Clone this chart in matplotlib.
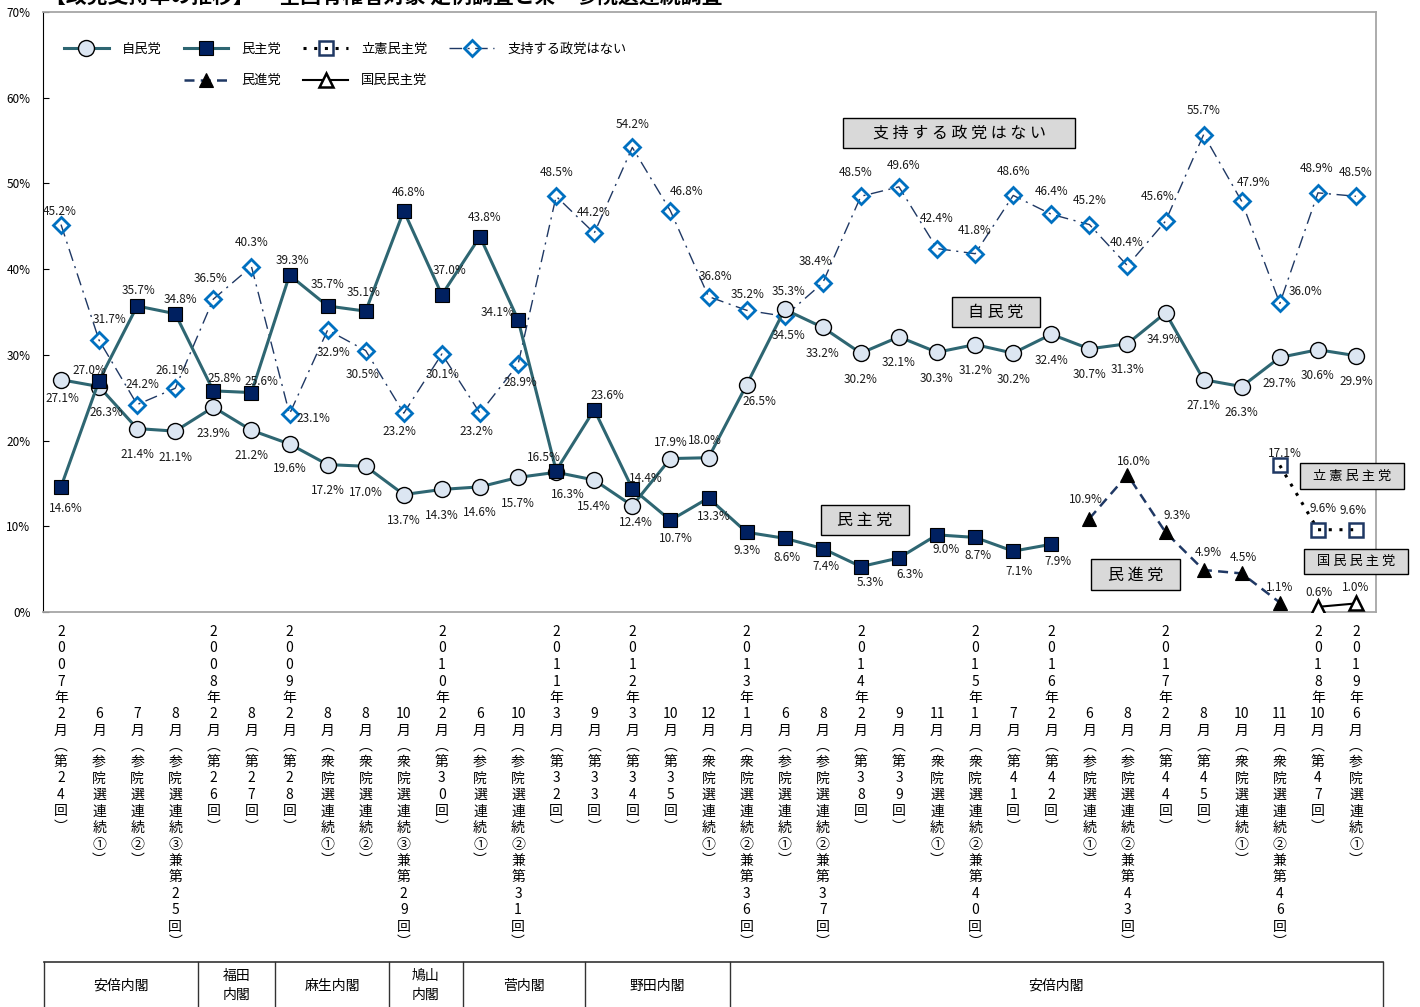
import matplotlib
matplotlib.use('Agg')
from matplotlib import pyplot as plt
from matplotlib.lines import Line2D
from matplotlib.patches import Rectangle

plt.rcParams['font.family'] = ['Noto Sans CJK JP', 'DejaVu Sans']

W, H = 1420, 1007

# survey labels (x axis)
years = ['2007', '', '', '', '2008', '', '2009', '', '', '', '2010', '', '', '2011', '', '2012', '', '',
         '2013', '', '', '2014', '', '', '2015', '', '2016', '', '', '2017', '', '', '', '2018', '2019']
months = ['2', '6', '7', '8', '2', '8', '2', '8', '8', '10', '2', '6', '10', '3', '9', '3', '10', '12',
          '1', '6', '8', '2', '9', '11', '1', '7', '2', '6', '8', '2', '8', '10', '11', '10', '6']
details = ['第24回', '参院選連続①', '参院選連続②', '参院選連続③兼第25回', '第26回', '第27回', '第28回',
           '衆院選連続①', '衆院選連続②', '衆院選連続③兼第29回', '第30回', '参院選連続①', '参院選連続②兼第31回',
           '第32回', '第33回', '第34回', '第35回', '衆院選連続①', '衆院選連続②兼第36回', '参院選連続①',
           '参院選連続②兼第37回', '第38回', '第39回', '衆院選連続①', '衆院選連続②兼第40回', '第41回', '第42回',
           '参院選連続①', '参院選連続②兼第43回', '第44回', '第45回', '衆院選連続①', '衆院選連続②兼第46回',
           '第47回', '参院選連続①']

# support rates (%)
ldp = [27.1, 26.3, 21.4, 21.1, 23.9, 21.2, 19.6, 17.2, 17.0, 13.7, 14.3, 14.6, 15.7, 16.3, 15.4, 12.4,
       17.9, 18.0, 26.5, 35.3, 33.2, 30.2, 32.1, 30.3, 31.2, 30.2, 32.4, 30.7, 31.3, 34.9, 27.1, 26.3,
       29.7, 30.6, 29.9]
dpj = [14.6, 27.0, 35.7, 34.8, 25.8, 25.6, 39.3, 35.7, 35.1, 46.8, 37.0, 43.8, 34.1, 16.5, 23.6, 14.4,
       10.7, 13.3, 9.3, 8.6, 7.4, 5.3, 6.3, 9.0, 8.7, 7.1, 7.9]
no_party = [45.2, 31.7, 24.2, 26.1, 36.5, 40.3, 23.1, 32.9, 30.5, 23.2, 30.1, 23.2, 28.9, 48.5, 44.2,
            54.2, 46.8, 36.8, 35.2, 34.5, 38.4, 48.5, 49.6, 42.4, 41.8, 48.6, 46.4, 45.2, 40.4, 45.6,
            55.7, 47.9, 36.0, 48.9, 48.5]
minshin = [10.9, 16.0, 9.3, 4.9, 4.5, 1.1]
rikken = [17.1, 9.6, 9.6]
kokumin = [0.6, 1.0]

x_all = list(range(1, 36))
x_dpj = x_all[:27]
x_minshin = x_all[27:33]
x_rikken = x_all[32:35]
x_kokumin = x_all[33:35]

cabinets = ['安倍内閣', '福田\n内閣', '麻生内閣', '鳩山\n内閣', '菅内閣', '野田内閣', '安倍内閣']
cabinet_edges = [0.55, 4.6, 6.62, 9.61, 11.55, 14.76, 18.56, 35.7]

# data label offsets (pixels, dx, dy up)
ldp_off = [(1, -19), (7, -26), (0, -26), (0, -26), (0, -26), (0, -25), (0, -25), (0, -26), (0, -26),
           (0, -26), (0, -26), (0, -26), (0, -26), (12, -22), (0, -26), (4, -17), (0, 16), (-4, 17),
           (13, -17), (4, 18), (0, -26), (0, -26), (0, -26), (0, -26), (0, -26), (0, -26), (0, -26),
           (0, -26), (0, -26), (-2, -27), (0, -26), (0, -26), (0, -26), (0, -26), (0, -26)]
dpj_off = [(5, -22), (-10, 10), (1, 16), (5, 14), (11, 12), (10, 11), (3, 15), (0, 21), (-2, 19),
           (5, 18), (8, 24), (5, 19), (-21, 7), (-12, 13), (13, 14), (13, 10), (5, -18), (5, -18),
           (0, -18), (2, -19), (3, -18), (9, -16), (11, -16), (9, -15), (3, -18), (6, -20), (7, -17)]
no_party_off = [(-1, 13), (10, 21), (5, 20), (-3, 18), (-3, 21), (0, 24), (24, -4), (6, -22), (-3, -24),
                (-4, -18), (1, -21), (-4, -18), (2, -18), (0, 24), (-1, 21), (0, 23), (16, 19), (7, 20),
                (1, 16), (4, -19), (-7, 21), (-5, 24), (5, 21), (0, 30), (0, 23), (0, 24), (0, 23),
                (0, 24), (-1, 23), (-8, 25), (0, 24), (12, 19), (26, 12), (-1, 24), (0, 24)]
minshin_off = [(-4, 19), (6, 13), (12, 17), (5, 17), (2, 16), (0, 15)]
rikken_off = [(5, 12), (5, 21), (-3, 19)]
kokumin_off = [(1, 14), (0, 16)]

step = (1356 - 61) / 34.0


def series(ax, xs, ys, offs, label, z, **kw):
	line, = ax.plot(xs, ys, label=label, zorder=z, **kw)
	for x, y, (dx, dy) in zip(xs, ys, offs):
		ax.annotate('%.1f%%' % y, (x, y), xytext=(dx, dy), textcoords='offset pixels',
					ha='center', va='center', fontsize=8.5, color='#1a1a1a', zorder=10)
	return line


def main():
	fig = plt.figure(figsize=(W / 100, H / 100), dpi=100)
	ax = fig.add_axes([43 / W, 1 - 612 / H, 1333 / W, 600 / H])
	ax.set_xlim(1 - 18 / step, 35 + 20 / step)
	ax.set_ylim(0, 70)

	teal = '#2E6672'
	navy = '#1F3864'
	h_none = series(ax, x_all, no_party, no_party_off, '支持する政党はない', 2,
					color=navy, lw=1.0, ls=(0, (9, 4, 1.5, 4)), marker='D', ms=8,
					mfc='none', mec='#0070C0', mew=2)
	h_ldp = series(ax, x_all, ldp, ldp_off, '自民党', 3, color=teal, lw=2.2, marker='o', ms=11.5,
				   mfc='#DCE6F2', mec='black', mew=1.0)
	h_dpj = series(ax, x_dpj, dpj, dpj_off, '民主党', 4, color=teal, lw=2.2, marker='s', ms=10,
				   mfc='#002060', mec='black', mew=0.8)
	h_min = series(ax, x_minshin, minshin, minshin_off, '民進党', 4, color=navy, lw=1.8,
				   ls=(0, (4, 2.5)), marker='^', ms=10, mfc='black', mec='black', mew=0.8)
	h_rik = series(ax, x_rikken, rikken, rikken_off, '立憲民主党', 4, color='black', lw=2.2,
				   ls=(0, (1, 2.5)), marker='s', ms=10.5, mfc='none', mec='#1F3864', mew=1.8)
	h_kok = series(ax, x_kokumin, kokumin, kokumin_off, '国民民主党', 4, color='black', lw=1.5,
				   marker='^', ms=10, mfc='white', mec='black', mew=1.8)

	# axes styling
	for side in ['top', 'right', 'bottom']:
		ax.spines[side].set_color('#A6A6A6')
		ax.spines[side].set_linewidth(1.3)
	ax.spines['left'].set_color('black')
	ax.spines['left'].set_linewidth(0.8)
	ax.set_yticks(range(0, 71, 10))
	ax.set_yticklabels(['%d%%' % v for v in range(0, 71, 10)])
	ax.tick_params(axis='y', direction='in', length=4, labelsize=8.5, pad=9)
	ax.set_xticks([])

	# vertical x labels
	for x, yr, mo, det in zip(x_all, years, months, details):
		items = []
		if yr:
			for k, ch in enumerate(yr + '年'):
				items.append((ch, 20 + 16.5 * k))
		base = 20 + 16.5 * 6
		items.append((mo, 20 + 16.5 * 5))
		items.append(('月', base))
		items.append(('︵', base + 15))
		for k, ch in enumerate(det):
			items.append((ch, base + 31 + 16.5 * k))
		items.append(('︶', base + 31 + 16.5 * (len(det) - 1) + 15))
		for ch, off in items:
			ax.annotate(ch, (x, 0), xycoords=('data', 'axes fraction'), xytext=(0, -off),
						textcoords='offset pixels', ha='center', va='center', fontsize=10,
						annotation_clip=False)

	# legend
	blank = Line2D([], [], linestyle='none')
	handles = [h_ldp, blank, h_dpj, h_min, h_rik, h_kok, h_none, blank]
	labels = ['自民党', '', '民主党', '民進党', '立憲民主党', '国民民主党', '支持する政党はない', '']
	ax.legend(handles, labels, ncol=4, loc='upper left', bbox_to_anchor=(0.0157, 0.949),
			  frameon=False, fontsize=9.5, handlelength=3.4, handletextpad=1.0,
			  columnspacing=1.65, labelspacing=1.42, borderpad=0, borderaxespad=0)

	# name boxes
	boxes = [('支 持 す る 政 党 は な い', 24.58, 55.88, 6.09, 3.5, 11.5),
			 ('自 民 党', 25.55, 35.0, 2.31, 3.5, 11.5),
			 ('民 主 党', 22.11, 10.73, 2.31, 3.5, 11.5),
			 ('民 進 党', 29.21, 4.32, 2.34, 3.62, 11.5),
			 ('立 憲 民 主 党', 34.89, 15.87, 2.73, 3.03, 9.5),
			 ('国 民 民 主 党', 35.0, 5.89, 2.73, 2.92, 9.5)]
	for txt, cx, cy, bw, bh, fs in boxes:
		ax.add_patch(Rectangle((cx - bw / 2, cy - bh / 2), bw, bh, fc='#D9D9D9', ec='black',
							   lw=1.0, zorder=8, clip_on=False))
		ax.text(cx, cy, txt, ha='center', va='center', fontsize=fs, zorder=9, clip_on=False)

	# cabinet row
	tab = fig.add_axes([43 / W, 0, 1333 / W, 45 / H])
	tab.set_xlim(ax.get_xlim())
	tab.set_ylim(0, 1)
	tab.axis('off')
	tab.plot([cabinet_edges[0], cabinet_edges[-1]], [1, 1], color='#333333', lw=1.2, clip_on=False)
	for e in cabinet_edges:
		tab.plot([e, e], [0, 1], color='#333333', lw=1.0, clip_on=False)
	for name, a, b in zip(cabinets, cabinet_edges[:-1], cabinet_edges[1:]):
		tab.text((a + b) / 2, 0.48, name, ha='center', va='center', fontsize=10,
				 linespacing=1.45, clip_on=False)

	fig.text(45 / W, 1 - 3 / H, '【政党支持率の推移】 ～全国有権者対象 定例調査と衆・参院選連続調査',
			 fontsize=15, fontweight='bold', ha='left', va='baseline')

	fig.savefig('out.png', dpi=100)


if __name__ == '__main__':
	main()
